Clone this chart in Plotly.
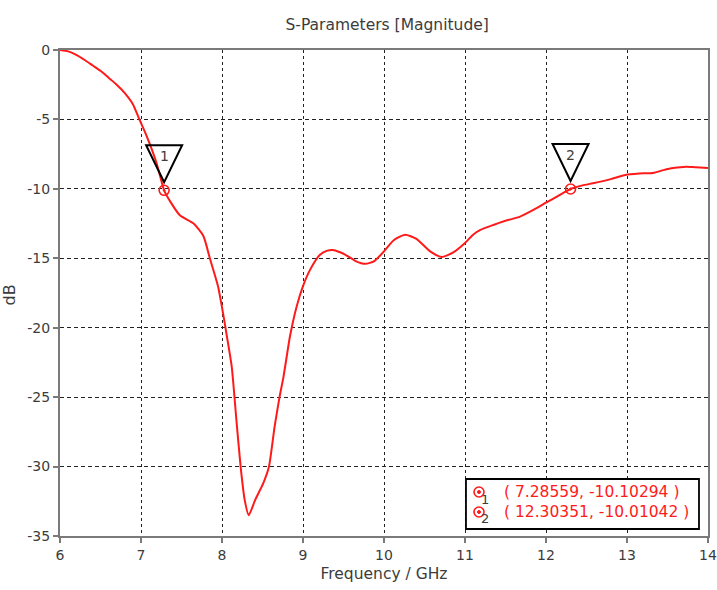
import plotly.graph_objects as go

# S11 magnitude sweep (GHz, dB)
freq_ghz = [6.0, 6.1, 6.2, 6.3, 6.4, 6.5, 6.6, 6.7, 6.8, 6.9, 6.98, 7.07, 7.19,
            7.28559, 7.36, 7.48, 7.65, 7.77, 7.85, 7.95, 8.02, 8.06, 8.12, 8.18,
            8.23, 8.28, 8.33, 8.41, 8.51, 8.58, 8.65, 8.71, 8.76, 8.84, 8.92, 9.0,
            9.09, 9.21, 9.3, 9.37, 9.45, 9.54, 9.65, 9.77, 9.88, 10.0, 10.12, 10.26,
            10.4, 10.57, 10.71, 10.85, 11.0, 11.1, 11.19, 11.35, 11.5, 11.68, 11.85,
            12.0, 12.15, 12.30351, 12.45, 12.58, 12.8, 12.98, 13.15, 13.32, 13.45,
            13.57, 13.73, 13.85, 14.0]
s11_db = [0.0, -0.1, -0.35, -0.7, -1.1, -1.5, -2.0, -2.5, -3.1, -3.9, -5.0, -6.2, -8.1,
          -10.10294, -10.9, -11.9, -12.5, -13.4, -15.0, -17.0, -19.2, -20.6, -22.8, -26.8,
          -30.0, -32.4, -33.5, -32.4, -31.2, -30.0, -27.1, -25.0, -23.5, -20.6, -18.5, -17.0,
          -15.8, -14.75, -14.45, -14.4, -14.55, -14.8, -15.2, -15.4, -15.2, -14.5, -13.7, -13.3,
          -13.6, -14.5, -14.9, -14.6, -13.9, -13.3, -12.96, -12.6, -12.3, -12.0, -11.5,
          -11.0, -10.5, -10.01042, -9.75, -9.6, -9.3, -9.0, -8.9, -8.85, -8.65,
          -8.5, -8.4, -8.45, -8.5]

# Markers placed on the curve
marker_ids = ["1", "2"]
marker_freq = [7.28559, 12.30351]
marker_db = [-10.10294, -10.01042]

x_ticks = [6, 7, 8, 9, 10, 11, 12, 13, 14]
y_ticks = [0, -5, -10, -15, -20, -25, -30, -35]
y_tick_text = [str(v) for v in y_ticks]  # plain hyphen-minus labels

FONT = "DejaVu Sans"
RED = "#ff1a1a"
GREY_TEXT = "#3c3c3c"

fig = go.Figure()
fig.add_trace(go.Scatter(
    x=freq_ghz, y=s11_db, mode="lines",
    line=dict(color=RED, width=2, shape="spline", smoothing=0.6),
    showlegend=False, hoverinfo="skip",
))

fig.add_trace(go.Scatter(
    x=marker_freq, y=marker_db, mode="markers",
    marker=dict(symbol="circle-open-dot", size=10, color=RED, line=dict(width=1.6)),
    showlegend=False, hoverinfo="skip",
))

for mid, mf, md in zip(marker_ids, marker_freq, marker_db):
    # inverted triangle flag above each marker
    fig.add_shape(
        type="path", xref="x", yref="y",
        xsizemode="pixel", ysizemode="pixel",
        xanchor=mf, yanchor=md,
        path="M 0 8 L -18 45 L 18 45 Z",
        line=dict(color="black", width=2),
    )
    fig.add_annotation(
        x=mf, y=md, xref="x", yref="y", text=mid, showarrow=False,
        xanchor="center", yanchor="middle",
        yshift=34, font=dict(family=FONT, size=14, color=GREY_TEXT),
    )

# marker readout box (lower right, paper coordinates)
fig.add_shape(
    type="rect", xref="paper", yref="paper",
    x0=0.6265, x1=0.9861, y0=0.0144, y1=0.1173,
    line=dict(color="black", width=1.8), fillcolor="white", layer="above",
)
row_y = [0.0905, 0.0494]
sub_y = [0.0741, 0.035]
for mid, mf, md, ry, sy in zip(marker_ids, marker_freq, marker_db, row_y, sub_y):
    fig.add_shape(
        type="circle", xref="paper", yref="paper",
        xsizemode="pixel", ysizemode="pixel", xanchor=0.6466, yanchor=ry,
        x0=-5, x1=5, y0=-5, y1=5,
        line=dict(color=RED, width=1.6), layer="above",
    )
    fig.add_shape(
        type="circle", xref="paper", yref="paper",
        xsizemode="pixel", ysizemode="pixel", xanchor=0.6466, yanchor=ry,
        x0=-1.5, x1=1.5, y0=-1.5, y1=1.5,
        line=dict(color=RED, width=1), fillcolor=RED, layer="above",
    )
    fig.add_annotation(
        x=0.6821, y=ry, xref="paper", yref="paper",
        xanchor="left", yanchor="middle",
        text=f"( {mf:.5f}, {md:.5f} )", showarrow=False,
        font=dict(family=FONT, size=15.5, color=RED),
    )
    fig.add_annotation(
        x=0.656, y=sy, xref="paper", yref="paper",
        xanchor="center", yanchor="middle",
        text=mid, showarrow=False,
        font=dict(family=FONT, size=13, color=GREY_TEXT),
    )

# y-axis title at the left edge of the page
fig.add_annotation(
    x=-0.0787, y=0.495, xref="paper", yref="paper", text="dB", showarrow=False,
    xanchor="center", yanchor="middle",
    textangle=-90, font=dict(family=FONT, size=16, color=GREY_TEXT),
)

axis_common = dict(
    showline=True, linecolor="#7a7a7a", linewidth=2, mirror=True,
    ticks="outside", ticklen=5, tickcolor="#7a7a7a", tickwidth=1.5,
    showgrid=True, gridcolor="#222", gridwidth=1.2,
    zeroline=False, automargin=False,
    tickfont=dict(family=FONT, size=14, color=GREY_TEXT),
)

fig.update_xaxes(
    range=[6, 14], tickvals=x_ticks, griddash="dot",
    title=dict(text="Frequency / GHz", font=dict(family=FONT, size=15.5, color=GREY_TEXT), standoff=6),
    **axis_common,
)
fig.update_yaxes(
    range=[-35, 0], tickvals=y_ticks, ticktext=y_tick_text, griddash="4px,3px",
    **axis_common,
)

fig.update_layout(
    width=717, height=590,
    margin=dict(l=60, r=9, t=50, b=54, autoexpand=False),
    paper_bgcolor="white", plot_bgcolor="white",
    title=dict(text="S-Parameters [Magnitude]", x=0.54, xanchor="center", y=0.968,
               font=dict(family=FONT, size=15.5, color=GREY_TEXT)),
    showlegend=False,
)

fig.write_html("out.html")
